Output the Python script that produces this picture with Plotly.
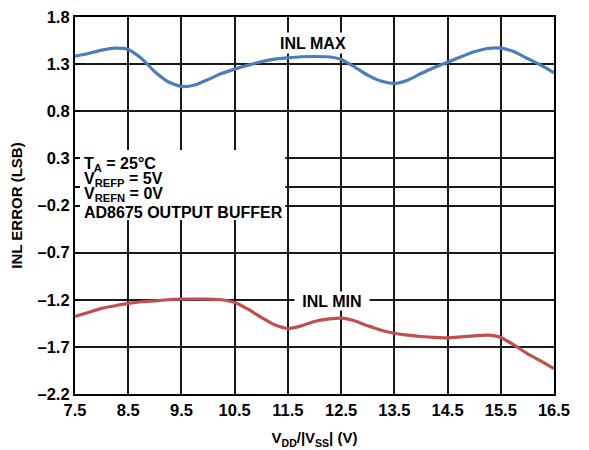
import plotly.graph_objects as go

# Data
vdd = [7.5, 7.75, 8.0, 8.25, 8.5, 8.75, 9.0, 9.25, 9.5, 9.75, 10.0, 10.25, 10.5, 10.75,
       11.0, 11.25, 11.5, 11.75, 12.0, 12.25, 12.5, 12.75, 13.0, 13.25, 13.5, 13.75,
       14.0, 14.25, 14.5, 14.75, 15.0, 15.25, 15.5, 15.75, 16.0, 16.25, 16.5]
inl_max = [1.385, 1.413, 1.449, 1.470, 1.456, 1.36, 1.219, 1.113, 1.062, 1.078, 1.137, 1.2,
           1.247, 1.289, 1.325, 1.353, 1.367, 1.378, 1.381, 1.378, 1.35, 1.272, 1.183, 1.12,
           1.095, 1.13, 1.2, 1.265, 1.321, 1.378, 1.431, 1.466, 1.470, 1.431, 1.36, 1.289, 1.208]
inl_min = [-1.377, -1.335, -1.292, -1.264, -1.239, -1.221, -1.211, -1.2, -1.193, -1.192, -1.193,
           -1.2, -1.228, -1.299, -1.388, -1.466, -1.505, -1.477, -1.43, -1.406, -1.395, -1.423,
           -1.477, -1.523, -1.555, -1.576, -1.59, -1.6, -1.604, -1.594, -1.583, -1.576, -1.6,
           -1.682, -1.771, -1.849, -1.93]

x_ticks = [7.5, 8.5, 9.5, 10.5, 11.5, 12.5, 13.5, 14.5, 15.5, 16.5]
x_ticktext = ["7.5", "8.5", "9.5", "10.5", "11.5", "12.5", "13.5", "14.5", "15.5", "16.5"]
y_ticks = [1.8, 1.3, 0.8, 0.3, 0.0, -0.2, -0.7, -1.2, -1.7, -2.2]
y_ticktext = ["1.8", "1.3", "0.8", "0.3", "", "–0.2", "–0.7", "–1.2", "–1.7", "–2.2"]

notes = ["T<sub>A</sub> = 25°C", "V<sub>REFP</sub> = 5V", "V<sub>REFN</sub> = 0V", "AD8675 OUTPUT BUFFER"]

FONT = "Arial, Liberation Sans, Helvetica, sans-serif"
BLUE = "#4a7ebb"
RED = "#c0504d"

fig = go.Figure()
fig.add_trace(go.Scatter(x=vdd, y=inl_max, mode="lines", name="INL MAX",
                         line=dict(color=BLUE, width=3.2, shape="spline", smoothing=0.6)))
fig.add_trace(go.Scatter(x=vdd, y=inl_min, mode="lines", name="INL MIN",
                         line=dict(color=RED, width=3.2, shape="spline", smoothing=0.6)))

# white box hiding gridlines behind the note text
fig.add_shape(type="rect", xref="x", yref="y", x0=7.5, x1=11.45, y0=-0.354, y1=0.389,
              fillcolor="white", line=dict(width=0), layer="between")

note_y = [0.235, 0.075, -0.085, -0.275]
for t, yy in zip(notes, note_y):
    fig.add_annotation(x=7.63, y=yy, xref="x", yref="y", text=t, showarrow=False,
                       xanchor="left", yanchor="middle",
                       font=dict(family=FONT, size=16, color="black", weight="bold"))

fig.add_annotation(x=11.97, y=1.52, xref="x", yref="y", text="INL MAX", showarrow=False,
                   bgcolor="white", width=76, height=20, borderpad=0,
                   font=dict(family=FONT, size=16, color="black", weight="bold"))
fig.add_annotation(x=12.33, y=-1.213, xref="x", yref="y", text="INL MIN", showarrow=False,
                   bgcolor="white", width=74, height=18, borderpad=0,
                   font=dict(family=FONT, size=16, color="black", weight="bold"))

# page body has an 8px margin, so the figure is sized/offset to compensate
fig.update_layout(
    width=581, height=442,
    margin=dict(l=67, r=35, t=9, b=56, autoexpand=False),
    paper_bgcolor="white", plot_bgcolor="white",
    showlegend=False,
    font=dict(family=FONT, color="black"),
    xaxis=dict(range=[7.5, 16.5], tickvals=x_ticks, ticktext=x_ticktext, automargin=False,
               showgrid=True, gridcolor="#1a1a1a", gridwidth=1.6,
               showline=True, linecolor="black", linewidth=2.2, mirror=True,
               ticks="", zeroline=False, ticklabeloverflow="allow",
               tickfont=dict(family=FONT, size=16.5, color="black", weight="bold"),
               title=dict(text="V<sub>DD</sub>/|V<sub>SS</sub>| (V)",
                          font=dict(family=FONT, size=15, color="black", weight="bold"))),
    yaxis=dict(range=[-2.2, 1.8], tickvals=y_ticks, ticktext=y_ticktext, automargin=False,
               showgrid=True, gridcolor="#1a1a1a", gridwidth=1.6,
               showline=True, linecolor="black", linewidth=2.2, mirror=True,
               ticks="inside", ticklen=5, tickwidth=1.6, tickcolor="black", zeroline=False,
               ticklabeloverflow="allow",
               tickfont=dict(family=FONT, size=16.5, color="black", weight="bold"),
               title=dict(text="INL ERROR (LSB)",
                          font=dict(family=FONT, size=15, color="black", weight="bold"))),
)

fig.write_html("out.html")
